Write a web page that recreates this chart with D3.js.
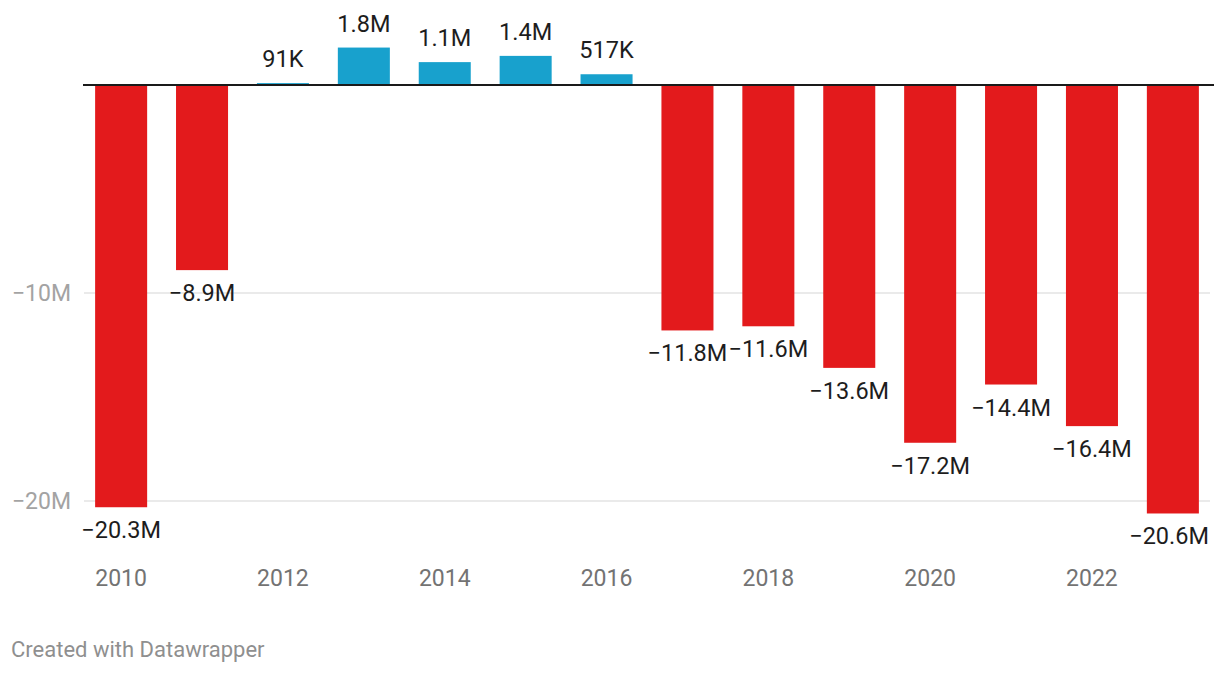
<!DOCTYPE html>
<html>
<head>
<meta charset="utf-8">
<script src="https://cdn.jsdelivr.net/npm/d3@7"></script>
<style>
  html, body { margin: 0; padding: 0; background: #fff; }
  svg { display: block; font-family: Roboto, "Noto Sans", sans-serif; }
</style>
</head>
<body>
<svg id="chart" width="1220" height="674"></svg>
<script>
const years = [2010, 2011, 2012, 2013, 2014, 2015, 2016, 2017, 2018, 2019, 2020, 2021, 2022, 2023];
const values = [-20.3e6, -8.9e6, 91e3, 1.8e6, 1.1e6, 1.4e6, 517e3, -11.8e6, -11.6e6, -13.6e6, -17.2e6, -14.4e6, -16.4e6, -20.6e6];
const valueLabels = ["−20.3M", "−8.9M", "91K", "1.8M", "1.1M", "1.4M", "517K", "−11.8M", "−11.6M", "−13.6M", "−17.2M", "−14.4M", "−16.4M", "−20.6M"];
const yTicks = [-10e6, -20e6];
const yTickLabels = ["−10M", "−20M"];
const xTickYears = [2010, 2012, 2014, 2016, 2018, 2020, 2022];

const svg = d3.select("#chart");

const x = d3.scaleBand()
  .domain(years)
  .range([84, 1210])
  .paddingInner(0.357)
  .paddingOuter(0.1375);

const y = d3.scaleLinear()
  .domain([-20e6, 0])
  .range([501, 85]);

// gridlines
svg.append("g")
  .selectAll("line")
  .data(yTicks)
  .join("line")
  .attr("x1", 84).attr("x2", 1210)
  .attr("y1", d => y(d)).attr("y2", d => y(d))
  .attr("stroke", "#e3e3e3")
  .attr("stroke-width", 1.5);

// y tick labels
svg.append("g")
  .selectAll("text")
  .data(yTicks)
  .join("text")
  .attr("x", 71)
  .attr("y", d => y(d))
  .attr("dy", "0.35em")
  .attr("text-anchor", "end")
  .attr("font-size", 23)
  .attr("fill", "#a3a3a3")
  .text((d, i) => yTickLabels[i]);

// bars
svg.append("g")
  .selectAll("rect")
  .data(years)
  .join("rect")
  .attr("x", d => x(d))
  .attr("width", x.bandwidth())
  .attr("y", (d, i) => Math.min(y(values[i]), y(0)))
  .attr("height", (d, i) => Math.abs(y(values[i]) - y(0)))
  .attr("fill", (d, i) => values[i] < 0 ? "#e31a1c" : "#18a1cd");

// zero baseline
svg.append("line")
  .attr("x1", 83).attr("x2", 1214)
  .attr("y1", y(0)).attr("y2", y(0))
  .attr("stroke", "#1a1a1a")
  .attr("stroke-width", 2);

// value labels
const vl = svg.append("g")
  .selectAll("text")
  .data(years)
  .join("text")
  .attr("x", d => x(d) + x.bandwidth() / 2)
  .attr("y", (d, i) => values[i] < 0 ? y(values[i]) + 31 : y(values[i]) - 16)
  .attr("text-anchor", "middle")
  .attr("font-size", 23.5)
  .attr("fill", "#1d1d1d")
  .text((d, i) => valueLabels[i]);

// keep labels inside the chart's right edge
vl.each(function() {
  const bb = this.getBBox();
  const maxRight = 1209;
  if (bb.x + bb.width > maxRight) {
    const cx = +this.getAttribute("x");
    this.setAttribute("x", cx - (bb.x + bb.width - maxRight));
  }
});

// x axis labels
svg.append("g")
  .selectAll("text")
  .data(xTickYears)
  .join("text")
  .attr("x", d => x(d) + x.bandwidth() / 2)
  .attr("y", 586)
  .attr("text-anchor", "middle")
  .attr("font-size", 23)
  .attr("fill", "#737373")
  .text(d => d);

// footer
svg.append("text")
  .attr("x", 11)
  .attr("y", 657)
  .attr("font-size", 22)
  .attr("fill", "#8f8f8f")
  .text("Created with Datawrapper");
</script>
</body>
</html>
